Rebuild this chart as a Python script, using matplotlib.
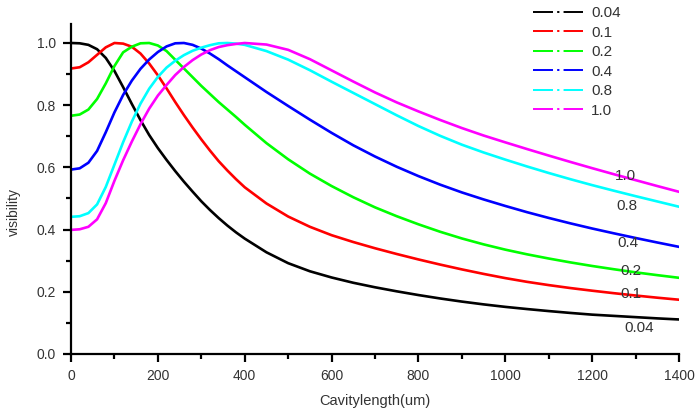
import matplotlib
matplotlib.use('Agg')
import matplotlib.pyplot as plt
from matplotlib.lines import Line2D

plt.rcParams['font.family'] = ['Liberation Sans', 'DejaVu Sans']
plt.rcParams['lines.scale_dashes'] = False

# cavity length (um)
length = [0, 20, 40, 60, 80, 100, 120, 140, 160, 180, 200, 220, 240, 260, 280, 300,
          320, 340, 360, 380, 400, 450, 500, 550, 600, 650, 700, 750, 800, 850, 900,
          950, 1000, 1050, 1100, 1150, 1200, 1250, 1300, 1350, 1400]

vis_004 = [1.000, 0.999, 0.994, 0.980, 0.952, 0.910, 0.858, 0.804, 0.752, 0.704, 0.662,
           0.624, 0.588, 0.554, 0.522, 0.491, 0.463, 0.437, 0.413, 0.391, 0.371, 0.327,
           0.292, 0.266, 0.246, 0.229, 0.2145, 0.2015, 0.1895, 0.1785, 0.1685, 0.1595,
           0.1515, 0.1445, 0.138, 0.132, 0.1265, 0.1225, 0.1185, 0.1145, 0.111]
vis_01 = [0.918, 0.922, 0.938, 0.962, 0.986, 1.000, 0.998, 0.988, 0.966, 0.934, 0.896,
          0.854, 0.810, 0.768, 0.728, 0.690, 0.654, 0.620, 0.590, 0.562, 0.536, 0.484,
          0.442, 0.409, 0.382, 0.360, 0.340, 0.3215, 0.304, 0.2875, 0.272, 0.2575,
          0.244, 0.232, 0.2215, 0.212, 0.2035, 0.1955, 0.188, 0.181, 0.1745]
vis_02 = [0.766, 0.770, 0.786, 0.820, 0.870, 0.926, 0.970, 0.988, 0.999, 1.000, 0.992,
          0.974, 0.946, 0.918, 0.890, 0.862, 0.836, 0.810, 0.786, 0.762, 0.737, 0.678,
          0.626, 0.580, 0.540, 0.504, 0.4715, 0.443, 0.417, 0.393, 0.3715, 0.3525,
          0.3355, 0.3205, 0.307, 0.2945, 0.283, 0.2725, 0.2625, 0.2535, 0.245]
vis_04 = [0.593, 0.597, 0.615, 0.653, 0.713, 0.777, 0.833, 0.879, 0.917, 0.947, 0.971,
          0.989, 0.999, 1.000, 0.994, 0.982, 0.966, 0.948, 0.928, 0.909, 0.890, 0.8425,
          0.7975, 0.7535, 0.711, 0.671, 0.635, 0.602, 0.572, 0.5445, 0.5195, 0.497,
          0.476, 0.456, 0.4375, 0.420, 0.4035, 0.388, 0.373, 0.3585, 0.3445]
vis_08 = [0.441, 0.443, 0.453, 0.481, 0.537, 0.609, 0.681, 0.747, 0.805, 0.853, 0.891,
          0.921, 0.943, 0.961, 0.975, 0.985, 0.993, 0.999, 1.000, 0.998, 0.994, 0.974,
          0.9465, 0.9125, 0.8755, 0.8395, 0.8035, 0.7675, 0.733, 0.7015, 0.673, 0.648,
          0.625, 0.603, 0.582, 0.562, 0.543, 0.525, 0.5075, 0.4905, 0.4735]
vis_10 = [0.399, 0.401, 0.409, 0.433, 0.485, 0.557, 0.623, 0.683, 0.739, 0.789, 0.831,
          0.865, 0.897, 0.923, 0.945, 0.963, 0.977, 0.987, 0.993, 0.997, 1.000, 0.995,
          0.978, 0.948, 0.912, 0.876, 0.841, 0.809, 0.780, 0.7525, 0.7265, 0.7025,
          0.6805, 0.659, 0.638, 0.6175, 0.5975, 0.578, 0.559, 0.540, 0.5215]

labels = ['0.04', '0.1', '0.2', '0.4', '0.8', '1.0']
colors = ['#000000', '#ff0000', '#00ff00', '#0000ff', '#00ffff', '#ff00ff']
series = [vis_004, vis_01, vis_02, vis_04, vis_08, vis_10]

# end-of-curve labels (x, y in data units)
tag_x = [1308, 1289, 1289, 1283, 1280, 1276]
tag_y = [0.084, 0.193, 0.267, 0.357, 0.476, 0.572]

fig = plt.figure(figsize=(6.95, 4.09), dpi=100)
ax = fig.add_axes([0.1022, 0.1345, 0.8748, 0.806])

for ys, c in zip(series, colors):
    ax.plot(length, ys, color=c, lw=1.9, solid_joinstyle='round')

for t, tx, ty in zip(labels, tag_x, tag_y):
    ax.text(tx, ty, t, fontsize=11, color='#333333', ha='center', va='center')

ax.set_xlim(0, 1400)
ax.set_ylim(0, 1.06)
ax.set_xticks(range(0, 1401, 200))
ax.set_xticks(range(100, 1400, 200), minor=True)
ax.set_yticks([0.0, 0.2, 0.4, 0.6, 0.8, 1.0])
ax.set_yticks([0.1, 0.3, 0.5, 0.7, 0.9], minor=True)
ax.yaxis.set_major_formatter(matplotlib.ticker.FormatStrFormatter('%.1f'))

for s in ['top', 'right']:
    ax.spines[s].set_visible(False)
for s in ['left', 'bottom']:
    ax.spines[s].set_linewidth(1.6)
ax.tick_params(which='major', direction='out', length=6, width=1.6,
               labelsize=10, labelcolor='#333333', pad=5)
ax.tick_params(which='minor', direction='out', length=3.5, width=1.6)

ax.set_xlabel('Cavitylength(um)', fontsize=10.5, color='#333333', labelpad=8)
ax.set_ylabel('visibility', fontsize=10, color='#333333')
ax.yaxis.set_label_coords(-0.083, 0.43)

handles = []
for c in colors:
    h = Line2D([0], [0], color=c, lw=1.4)
    h.set_dashes((14.4, 3.0, 1.6, 3.0, 14.0, 10.0))
    handles.append(h)
fig.legend(handles, labels, loc='upper left', bbox_to_anchor=(0.767, 0.985),
           frameon=False, fontsize=11, handlelength=3.4, handletextpad=0.4,
           labelspacing=0.36, borderpad=0, borderaxespad=0, labelcolor='#333333')

fig.savefig('out.png', dpi=100)
